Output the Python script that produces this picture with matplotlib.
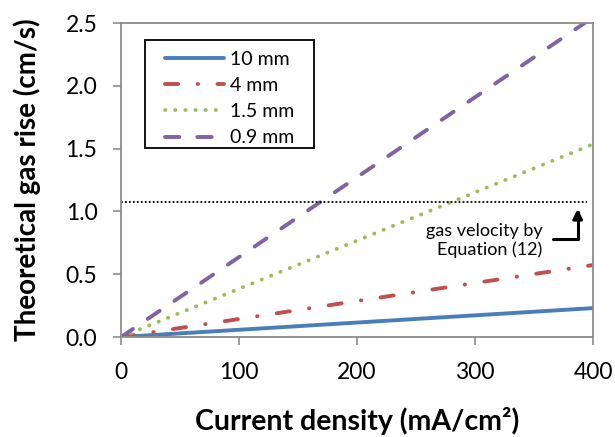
import matplotlib
matplotlib.use("Agg")
import matplotlib.pyplot as plt
from matplotlib.patches import Rectangle

plt.rcParams['font.family'] = ['Lato', 'DejaVu Sans']

current = [0, 400]
labels = ["10 mm", "4 mm", "1.5 mm", "0.9 mm"]
rise_10mm = [0.0, 0.23]
rise_4mm = [0.0, 0.573]
rise_1p5mm = [0.0, 1.535]
rise_0p9mm = [0.0, 2.545]
eq12_x = [0, 395]
eq12_y = [1.075, 1.075]

fig = plt.figure(figsize=(6.15, 4.37), dpi=100)
ax = fig.add_axes([121/615, 1-337/437, (593-121)/615, (337-23)/437])

ax.plot(current, rise_10mm, color='#4a7ebb', lw=2.8, solid_capstyle='round', label=labels[0])
ax.plot(current, rise_4mm, color='#c0504d', lw=2.8, dashes=(3.4, 5, 0.1, 5), dash_capstyle='round', label=labels[1])
ax.plot(current, rise_1p5mm, color='#9bbb59', lw=2.7, dashes=(0.1, 2.6), dash_capstyle='round', label=labels[2])
ax.plot(current, rise_0p9mm, color='#8064a2', lw=2.8, dashes=(3.7, 4.6), dash_capstyle='round', label=labels[3])
ax.plot(eq12_x, eq12_y, color='black', lw=1.3, linestyle=(0, (1, 1.2)))

ax.annotate('', xy=(387, 1.02), xytext=(366, 0.78),
            arrowprops=dict(arrowstyle='-|>', connectionstyle='angle,angleA=0,angleB=90,rad=0',
                            color='black', lw=2.2, mutation_scale=14, shrinkA=0, shrinkB=0))
ax.text(357, 0.77, 'gas velocity by\nEquation (12)', ha='right', va='center', fontsize=13,
        linespacing=1.2)

ax.set_xlim(0, 400)
ax.set_ylim(0, 2.5)
ax.set_xticks([0, 100, 200, 300, 400])
ax.set_yticks([0, 0.5, 1.0, 1.5, 2.0, 2.5])
ax.set_yticklabels(['0.0', '0.5', '1.0', '1.5', '2.0', '2.5'])
for s in ax.spines.values():
    s.set_color('#8c8c8c')
    s.set_linewidth(1.3)
ax.tick_params(axis='both', direction='out', length=6, width=1.2, color='#8c8c8c',
               labelsize=16.5)
ax.tick_params(axis='y', pad=11)
ax.tick_params(axis='x', pad=12)
ax.set_xlabel('Current density (mA/cm²)', fontsize=20.5, fontweight='bold', labelpad=17)
ax.set_ylabel('Theoretical gas rise (cm/s)', fontsize=20, fontweight='bold', labelpad=18)

# legend frame (drawn as a box) + legend entries
ax.add_patch(Rectangle((24/472, (337-148)/314), (314-145)/472, (148-40)/314,
                       transform=ax.transAxes, facecolor='white', edgecolor='black',
                       lw=1.3, zorder=4))
leg = ax.legend(loc='upper left', bbox_to_anchor=((165-121)/472, (337-51)/314), fontsize=14,
                handlelength=3.05, frameon=False, borderpad=0, borderaxespad=0,
                labelspacing=0.47, handletextpad=0.3)
leg.set_zorder(5)

fig.savefig('out.png', dpi=100)
